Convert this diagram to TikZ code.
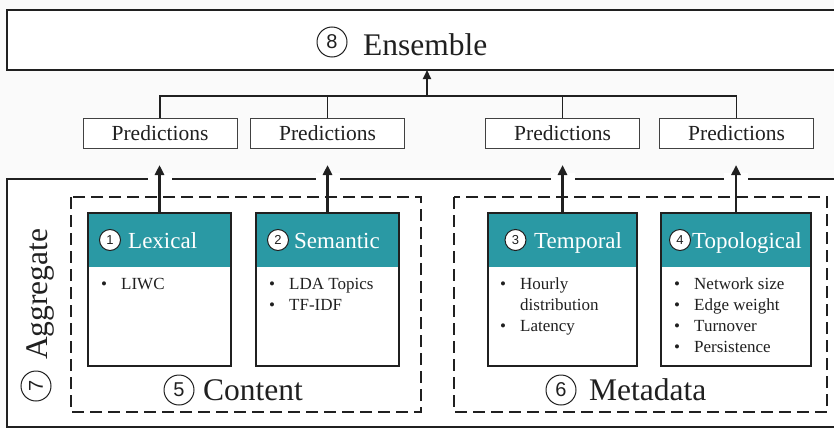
\documentclass[tikz,border=0pt]{standalone}
\usepackage{fontspec}
\setmainfont{Liberation Serif}
\newfontfamily\numfont{Liberation Sans}
\usetikzlibrary{arrows.meta}
\definecolor{bgc}{HTML}{FAFAFA}
\definecolor{ink}{HTML}{202020}
\definecolor{headteal}{HTML}{2A99A4}
\begin{document}
\begin{tikzpicture}[x=1pt,y=-1pt,
  bigbox/.style={draw=ink, line width=2pt, fill=white, rectangle, inner sep=0, outer sep=0, anchor=north west},
  predbox/.style={draw=ink!85, line width=1pt, fill=white, minimum width=154pt, minimum height=30pt,
    inner sep=0, font=\fontsize{21.5}{24}\selectfont, text=ink},
  groupbox/.style={draw=ink, dash pattern=on 12pt off 6pt, line width=1.3pt},
  featbox/.style={draw=ink, line width=2pt, fill=white, minimum height=153pt, inner sep=0, outer sep=0,
    anchor=north west,
    path picture={\fill[headteal] (path picture bounding box.north west) rectangle
      ([yshift=-54pt]path picture bounding box.north east);}},
  bignum/.style={circle, draw=ink, line width=1pt, minimum size=30pt, inner sep=0,
    font=\numfont\fontsize{20}{20}\selectfont, text=ink},
  smallnum/.style={circle, draw=ink, fill=white, line width=1pt, minimum size=21pt, inner sep=0,
    font=\numfont\fontsize{13}{13}\selectfont, text=ink},
  bigtext/.style={inner sep=0, anchor=base west, font=\fontsize{31.5}{36}\selectfont, text=ink},
  headtext/.style={inner sep=0, anchor=base west, text=white, font=\fontsize{23}{26}\selectfont},
  bullets/.style={inner sep=0, anchor=base west, text=ink,
    font=\fontsize{17}{21}\selectfont\renewcommand{\arraystretch}{1}},
  uparrow/.style={-{Triangle[length=10pt,width=9pt]}, line width=2.5pt, draw=ink},
  link/.style={line width=1.6pt, draw=ink}]

\useasboundingbox (0,0) rectangle (834,428);
\clip (0,0) rectangle (834,428);
\fill[bgc] (0,0) rectangle (834,428);

% Ensemble stage
\node[bigbox, minimum width=840pt, minimum height=60pt] (ens) at (7,10) {};
\node[bignum] (n8) at (332,42) {8};
\node[bigtext] (enstxt) at (363,56) {Ensemble};

% per-feature predictions
\node[predbox] (p1) at (160,133) {Predictions};
\node[predbox] (p2) at (327.5,133) {Predictions};
\node[predbox] (p3) at (562.5,133) {Predictions};
\node[predbox] (p4) at (736.5,133) {Predictions};

\coordinate (bus) at (427,96);
\draw[link] (p1.north) |- (bus) -| (p4.north);
\draw[link] (p2.north) -- (p2.north |- bus);
\draw[link] (p3.north) -- (p3.north |- bus);
\draw[-{Triangle[length=9pt,width=8pt]}, line width=2pt, draw=ink] (bus) -- (bus |- ens.south);

% Aggregate stage
\node[bigbox, minimum width=840pt, minimum height=248pt] (agg) at (7,179) {};
\node[bignum, rotate=90] (n7) at (36,386) {7};
\node[bigtext, rotate=90] (aggtxt) at (47,360) {Aggregate};

% feature groups
\draw[groupbox] (71,197) rectangle (421,412);
\draw[groupbox] (454,197) rectangle (827,412);
\node[bignum] (n5) at (179,390) {5};
\node[bigtext] (contxt) at (203,400) {Content};
\node[bignum] (n6) at (561,390) {6};
\node[bigtext] (metatxt) at (589,400) {Metadata};

% feature boxes
\node[featbox, minimum width=143pt] (lex) at (88,213) {};
\node[featbox, minimum width=143pt] (sem) at (256,213) {};
\node[featbox, minimum width=149pt] (tem) at (488,213) {};
\node[featbox, minimum width=150pt] (top) at (661,213) {};

\node[smallnum] (n1) at (110,240) {1};
\node[headtext] (lexh) at (128,248) {Lexical};
\node[smallnum] (n2) at (278,240) {2};
\node[headtext] (semh) at (294,248) {Semantic};
\node[smallnum] (n3) at (515.5,240) {3};
\node[headtext] (temh) at (534,248) {Temporal};
\node[smallnum] (n4) at (680,240) {4};
\node[headtext] (toph) at (692,248) {Topological};

\node[bullets] (lexb) at (101,289) {\begin{tabular}[t]{@{}p{20pt}@{}l@{}}\textbullet & LIWC\end{tabular}};
\node[bullets] (semb) at (269,289) {\begin{tabular}[t]{@{}p{20pt}@{}l@{}}\textbullet & LDA Topics\\ \textbullet & TF-IDF\end{tabular}};
\node[bullets] (temb) at (500,289) {\begin{tabular}[t]{@{}p{20pt}@{}l@{}}\textbullet & Hourly\\ & distribution\\ \textbullet & Latency\end{tabular}};
\node[bullets] (topb) at (674,289) {\begin{tabular}[t]{@{}p{20pt}@{}l@{}}\textbullet & Network size\\ \textbullet & Edge weight\\ \textbullet & Turnover\\ \textbullet & Persistence\end{tabular}};

% openings in the aggregate border where the arrows pass
\foreach \b in {lex,sem,tem,top}{
  \fill[white] ([xshift=-12pt,yshift=6pt]\b.north |- agg.north) rectangle ([xshift=12pt,yshift=-6pt]\b.north |- agg.north);
}
\draw[uparrow] (lex.north) -- ++(0,-48);
\draw[uparrow] (sem.north) -- ++(0,-48);
\draw[uparrow] (tem.north) -- ++(0,-48);
\draw[uparrow] (top.north) -- ++(0,-48);
\end{tikzpicture}
\end{document}
